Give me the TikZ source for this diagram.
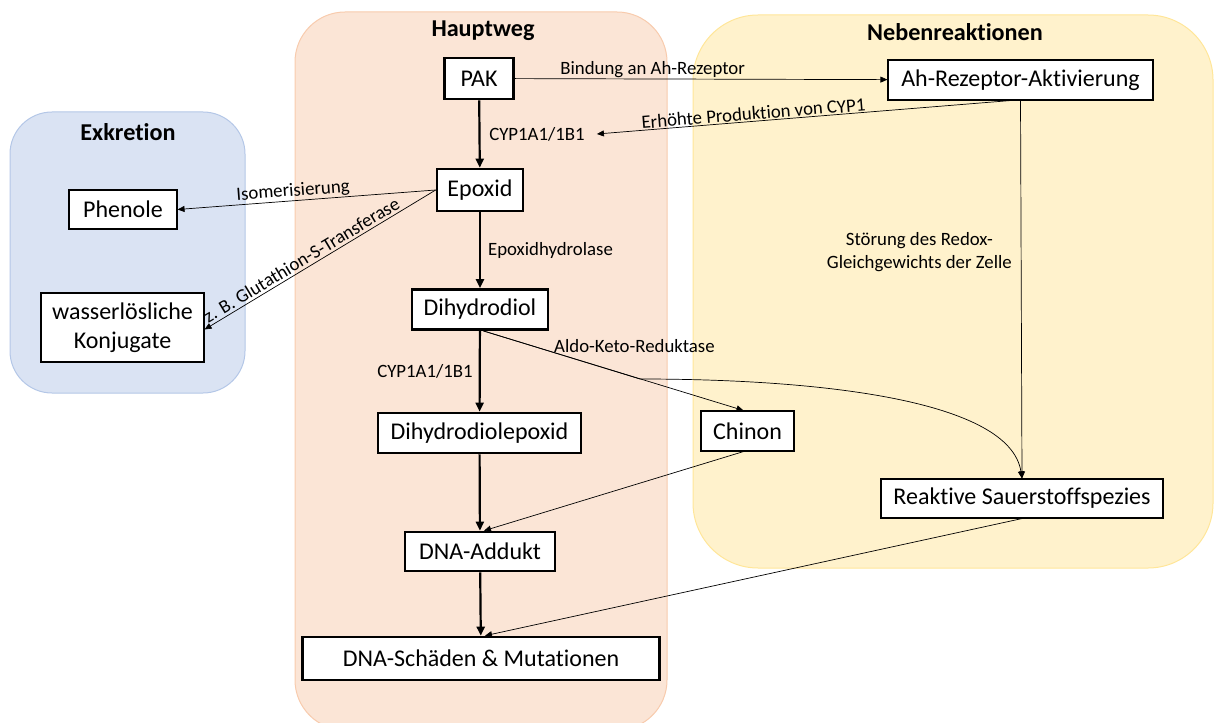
\documentclass[tikz,border=0pt]{standalone}
\usepackage{fontspec}
\setmainfont{Carlito}[Ligatures={NoCommon}]
\usetikzlibrary{arrows.meta}
\definecolor{exfill}{HTML}{DAE3F3}
\definecolor{exline}{HTML}{B4C7E7}
\definecolor{hwfill}{HTML}{FBE5D6}
\definecolor{hwline}{HTML}{F8CBAD}
\definecolor{nbfill}{HTML}{FFF2CC}
\definecolor{nbline}{HTML}{FFE699}
\newcommand\myBoxFont{\fontsize{24}{28}\selectfont}
\newcommand\myLblFont{\fontsize{18.8}{23}\selectfont}
\newcommand\myTitleFont{\fontsize{24.2}{28}\selectfont\bfseries}
\begin{document}
\begin{tikzpicture}[x=1pt,y=-1pt,
  thickbox/.style={draw, line width=2.6pt, fill=white, inner sep=0pt, font=\myBoxFont, align=center},
  thinbox/.style={draw, line width=1.1pt, fill=white, inner sep=0pt, font=\myBoxFont, align=center},
  lbl/.style={font=\myLblFont, inner sep=1pt, align=center},
  grp/.style={line width=1pt},
  title/.style={font=\myTitleFont, inner sep=0pt},
  mainarrow/.style={line width=2.2pt, -{Triangle[length=9pt,width=8pt]}},
  sidearrow/.style={line width=0.7pt, -{Triangle[length=7pt,width=6pt]}}
]
\useasboundingbox (0,0) rectangle (1214,722);
\clip (0,0) rectangle (1214,722);
% groups
\draw[grp, fill=exfill, draw=exline, rounded corners=42pt] (10,112) rectangle (245,393);
\draw[grp, fill=hwfill, draw=hwline, rounded corners=50pt] (295,12) rectangle (667,730);
\draw[grp, fill=nbfill, draw=nbline, rounded corners=65pt] (693,15) rectangle (1213,568);
\node[title] (tex) at (128,132) {Exkretion};
\node[title] (thw) at (483,31) {Hauptweg};
\node[title] (tnb) at (955,32) {Nebenreaktionen};
% nodes
\node[thickbox, minimum width=69pt, minimum height=41pt] (pak) at (479,78.5) {PAK};
\node[thickbox, minimum width=86pt, minimum height=42pt] (epo) at (480,190) {Epoxid};
\node[thickbox, minimum width=136pt, minimum height=40pt] (dhd) at (480,309.5) {Dihydrodiol};
\node[thickbox, minimum width=203pt, minimum height=40pt] (dde) at (479.5,433) {Dihydrodiolepoxid};
\node[thickbox, minimum width=150pt, minimum height=39pt] (add) at (480,551.5) {DNA-Addukt};
\node[thickbox, minimum width=357pt, minimum height=43pt] (dns) at (481,658.5) {DNA-Schäden \& Mutationen};
\node[thinbox, minimum width=265pt, minimum height=40pt] (ahr) at (1020.5,80) {Ah-Rezeptor-Aktivierung};
\node[thinbox, minimum width=108pt, minimum height=39pt] (phe) at (123,209.5) {Phenole};
\node[thinbox, minimum width=163pt, minimum height=69pt, font={\fontsize{24}{29}\selectfont}] (kon) at (122.5,327.5) {wasserlösliche\\Konjugate};
\node[thinbox, minimum width=93pt, minimum height=40pt] (chi) at (747.5,431) {Chinon};
\node[thinbox, minimum width=282pt, minimum height=39pt] (ros) at (1022,498.5) {Reaktive Sauerstoffspezies};
% edge label that is a target
\node[lbl, inner xsep=12pt] (cyp) at (537,134) {CYP1A1/1B1};
% main path
\draw[mainarrow] (pak) -- (epo);
\draw[mainarrow] (epo) -- node[lbl, anchor=west, pos=0.5, xshift=6pt] (lep) {Epoxidhydrolase} (dhd);
\draw[mainarrow] (dhd) -- node[lbl, anchor=east, pos=0.5, xshift=-5pt] (lcy) {CYP1A1/1B1} (dde);
\draw[mainarrow] (dde) -- (add);
\draw[mainarrow] (add) -- (dns);
% side arrows
\draw[sidearrow] (pak) -- node[lbl, above, pos=0.37] (lbi) {Bindung an Ah-Rezeptor} (ahr);
\draw[sidearrow] ([xshift=-10pt]ahr.south) -- node[lbl, sloped, above, pos=0.62] (ler) {Erhöhte Produktion von CYP1} (cyp.east);
\draw[sidearrow] (epo.west) -- node[lbl, sloped, above, pos=0.55] (lis) {Isomerisierung} (phe.east);
\draw[sidearrow] (epo.west) -- node[lbl, sloped, above, pos=0.56, inner sep=2.5pt] (lgl) {z. B. Glutathion-S-Transferase} ([yshift=-2pt]kon.east);
\draw[sidearrow] ([xshift=3pt]dhd.south) -- ([xshift=-4pt]chi.north);
\node[lbl, anchor=west] (lal) at (553,346) {Aldo-Keto-Reduktase};
\coordinate (br) at (640,379);
\draw[sidearrow] ([xshift=3pt]dhd.south) -- (br) .. controls (820,379) and (1010,400) .. (ros.north);
\draw[sidearrow] (ahr.south) -- node[lbl, left, pos=0.4, xshift=-8pt] (lst) {Störung des Redox-\\Gleichgewichts der Zelle} (ros.north);
\draw[sidearrow] ([xshift=-4pt]chi.south) -- ([xshift=4pt]add.north);
\draw[sidearrow] (ros.south) -- ([xshift=4pt]dns.north);
\end{tikzpicture}
\end{document}
